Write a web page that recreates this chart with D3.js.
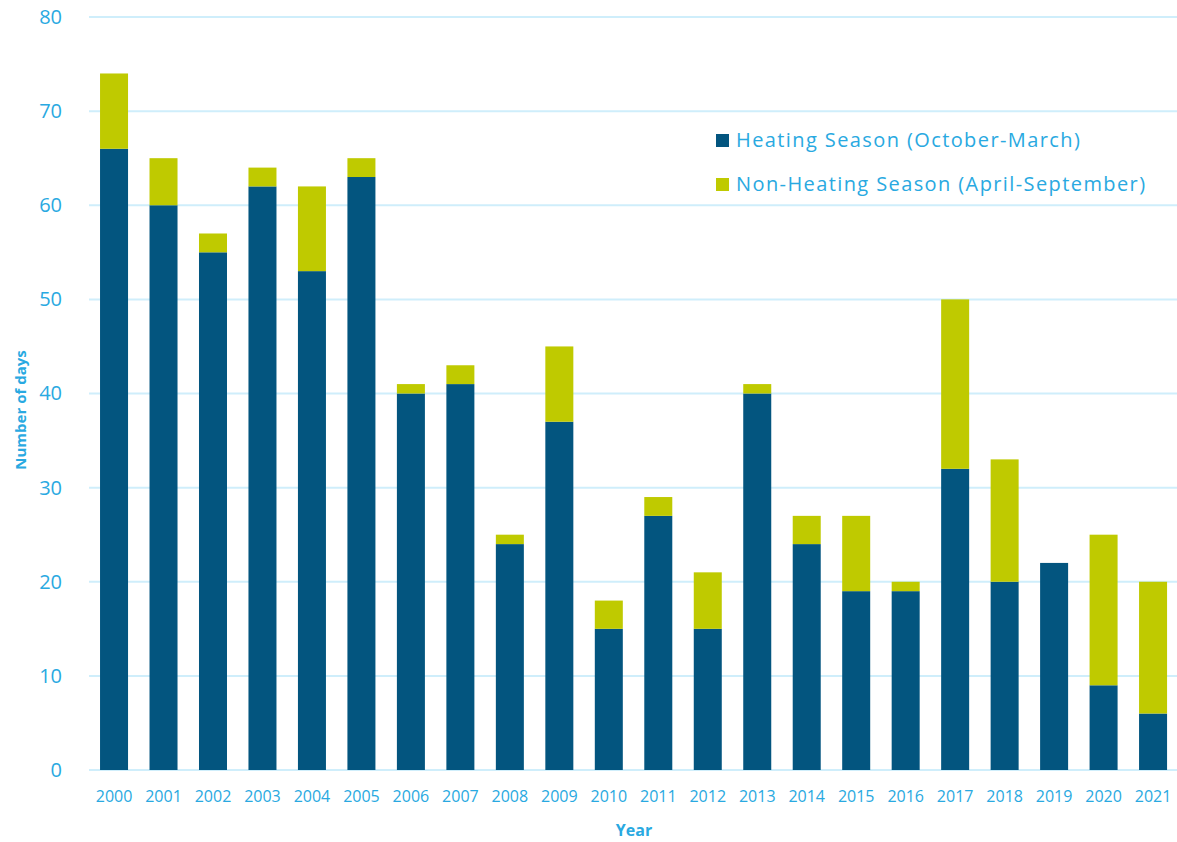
<!DOCTYPE html>
<html>
<head>
<meta charset="utf-8">
<script src="https://cdn.jsdelivr.net/npm/d3@7"></script>
<style>
  html, body { margin: 0; padding: 0; background: #fff; }
  svg { display: block; font-family: "Open Sans", sans-serif; }
</style>
</head>
<body>
<svg id="chart" width="1177" height="842"></svg>
<script>
// Data
var years = ["2000","2001","2002","2003","2004","2005","2006","2007","2008","2009","2010",
             "2011","2012","2013","2014","2015","2016","2017","2018","2019","2020","2021"];
var heating    = [66, 60, 55, 62, 53, 63, 40, 41, 24, 37, 15, 27, 15, 40, 24, 19, 19, 32, 20, 22, 9, 6];
var nonHeating = [ 8,  5,  2,  2,  9,  2,  1,  2,  1,  8,  3,  2,  6,  1,  3,  8,  1, 18, 13,  0, 16, 14];
var yTicks = [0, 10, 20, 30, 40, 50, 60, 70, 80];
var seriesNames = ["Heating Season (October-March)", "Non-Heating Season (April-September)"];

var COLORS = ["#03557f", "#bfca00"];
var TEXT = "#29a9e1";
var GRID = "#cfeefb";

var svg = d3.select("#chart");

var x = d3.scaleBand()
  .domain(years)
  .range([89.3, 1177.8])
  .paddingInner(0.434)
  .paddingOuter(0.217);

var y = d3.scaleLinear().domain([0, 80]).range([770, 17]);

// gridlines
svg.append("g").selectAll("line")
  .data(yTicks)
  .enter().append("line")
  .attr("x1", 89).attr("x2", 1177)
  .attr("y1", function(d) { return y(d); })
  .attr("y2", function(d) { return y(d); })
  .attr("stroke", GRID)
  .attr("stroke-width", 2);

// y axis labels
var yAxis = svg.append("g")
  .attr("transform", "translate(76,0)")
  .call(d3.axisLeft(y).tickValues(yTicks).tickSize(0).tickPadding(14));
yAxis.select(".domain").remove();
yAxis.selectAll("text")
  .attr("fill", TEXT)
  .style("font-size", "20px")
  .style("font-family", "'Open Sans', sans-serif");

// stacked bars
var rows = years.map(function(yr, i) {
  return { year: yr, heating: heating[i], nonHeating: nonHeating[i] };
});
var stack = d3.stack().keys(["heating", "nonHeating"])(rows);

svg.append("g").selectAll("g")
  .data(stack)
  .enter().append("g")
  .attr("fill", function(d, i) { return COLORS[i]; })
  .selectAll("rect")
  .data(function(d) { return d; })
  .enter().append("rect")
  .attr("x", function(d) { return x(d.data.year); })
  .attr("width", x.bandwidth())
  .attr("y", function(d) { return y(d[1]); })
  .attr("height", function(d) { return y(d[0]) - y(d[1]); });

// x axis labels
var xAxis = svg.append("g")
  .attr("transform", "translate(0,770)")
  .call(d3.axisBottom(x).tickSize(0).tickPadding(21));
xAxis.select(".domain").remove();
xAxis.selectAll("text")
  .attr("fill", TEXT)
  .style("font-size", "16px")
  .style("font-family", "'Open Sans', sans-serif");

// axis titles
svg.append("text")
  .attr("x", 634).attr("y", 836)
  .attr("text-anchor", "middle")
  .attr("fill", TEXT)
  .style("font-size", "16px")
  .style("font-weight", "bold")
  .text("Year");

svg.append("text")
  .attr("transform", "translate(26,410) rotate(-90)")
  .attr("text-anchor", "middle")
  .attr("fill", TEXT)
  .style("font-size", "15px")
  .style("font-weight", "bold")
  .text("Number of days");

// legend
var legend = svg.append("g").selectAll("g")
  .data(seriesNames)
  .enter().append("g")
  .attr("transform", function(d, i) { return "translate(716," + (134 + i * 44) + ")"; });
legend.append("rect")
  .attr("width", 13).attr("height", 13)
  .attr("fill", function(d, i) { return COLORS[i]; });
legend.append("text")
  .attr("x", 20).attr("y", 13)
  .attr("fill", TEXT)
  .style("font-size", "20px")
  .style("letter-spacing", "1.4px")
  .text(function(d) { return d; });
</script>
</body>
</html>
